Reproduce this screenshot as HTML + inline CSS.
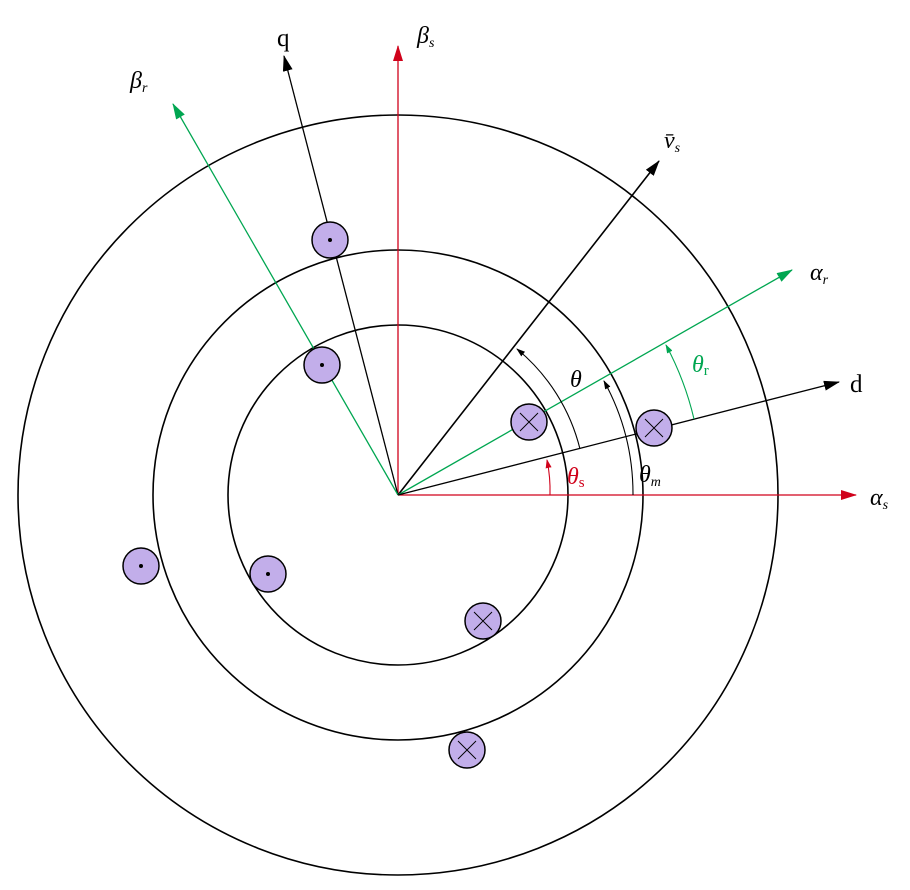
<!DOCTYPE html>
<html><head><meta charset="utf-8"><style>body{margin:0;background:#fff}svg{display:block}</style></head><body>
<svg width="910" height="890" viewBox="0 0 910 890" xmlns="http://www.w3.org/2000/svg" font-family="Liberation Serif, serif">
<defs>
<marker id="ab" markerWidth="16" markerHeight="10" refX="15" refY="5" orient="auto" markerUnits="userSpaceOnUse"><path d="M0,0 L16,5 L0,10 Z" fill="#000"/></marker>
<marker id="ar" markerWidth="16" markerHeight="10" refX="15" refY="5" orient="auto" markerUnits="userSpaceOnUse"><path d="M0,0 L16,5 L0,10 Z" fill="#d0021b"/></marker>
<marker id="ag" markerWidth="16" markerHeight="10" refX="15" refY="5" orient="auto" markerUnits="userSpaceOnUse"><path d="M0,0 L16,5 L0,10 Z" fill="#00a651"/></marker>
<marker id="sb" markerWidth="9" markerHeight="6" refX="8" refY="3" orient="auto" markerUnits="userSpaceOnUse"><path d="M0,0 L9,3 L0,6 Z" fill="#000"/></marker>
<marker id="sr" markerWidth="9" markerHeight="6" refX="8" refY="3" orient="auto" markerUnits="userSpaceOnUse"><path d="M0,0 L9,3 L0,6 Z" fill="#d0021b"/></marker>
<marker id="sg" markerWidth="9" markerHeight="6" refX="8" refY="3" orient="auto" markerUnits="userSpaceOnUse"><path d="M0,0 L9,3 L0,6 Z" fill="#00a651"/></marker>
</defs>
<g fill="none" stroke="#000" stroke-width="1.6">
<circle cx="398" cy="495" r="380"/>
<circle cx="398" cy="495" r="245"/>
<circle cx="398" cy="495" r="170"/>
</g>
<g stroke-width="1.3">
<line x1="398" y1="495" x2="856" y2="495" stroke="#d0021b" marker-end="url(#ar)"/>
<line x1="398" y1="495" x2="398" y2="46" stroke="#d0021b" marker-end="url(#ar)"/>
<line x1="398" y1="495" x2="284" y2="56" stroke="#000" marker-end="url(#ab)"/>
<line x1="398" y1="495" x2="173" y2="104" stroke="#00a651" marker-end="url(#ag)"/>
<line x1="398" y1="495" x2="659" y2="161" stroke="#000" marker-end="url(#ab)" stroke-width="1.6"/>
<line x1="398" y1="495" x2="792" y2="270" stroke="#00a651" marker-end="url(#ag)"/>
<line x1="398" y1="495" x2="839" y2="382" stroke="#000" marker-end="url(#ab)"/>
</g>
<g fill="none" stroke-width="1.1">
<path d="M550,495 A152,152 0 0 0 547,460" stroke="#d0021b" marker-end="url(#sr)"/>
<path d="M580,449 A188,188 0 0 0 517,349" stroke="#000" marker-end="url(#sb)"/>
<path d="M633,495 A235,235 0 0 0 604,381" stroke="#000" marker-end="url(#sb)"/>
<path d="M694,419 A305,305 0 0 0 666,345" stroke="#00a651" marker-end="url(#sg)"/>
</g>
<g fill="#c2aeea" stroke="#000" stroke-width="1.5">
<circle cx="330" cy="240" r="18"/><circle cx="322" cy="365" r="18"/><circle cx="141" cy="566" r="18"/><circle cx="268" cy="574" r="18"/>
<circle cx="529" cy="422" r="18"/><circle cx="654" cy="428" r="18"/><circle cx="483" cy="621" r="18"/><circle cx="467" cy="750" r="18"/>
</g>
<g fill="#000"><circle cx="330" cy="240" r="2"/><circle cx="322" cy="365" r="2"/><circle cx="141" cy="566" r="2"/><circle cx="268" cy="574" r="2"/></g>
<g stroke="#000" stroke-width="0.9">
<path d="M520,413 l18,18 M538,413 l-18,18"/><path d="M645,419 l18,18 M663,419 l-18,18"/>
<path d="M474,612 l18,18 M492,612 l-18,18"/><path d="M458,741 l18,18 M476,741 l-18,18"/>
</g>
<g font-size="24" font-style="italic">
<text x="870" y="505">α<tspan font-size="14" dy="4">s</tspan></text>
<text x="417" y="43" fill="#000">β<tspan font-size="14" dy="4">s</tspan></text>
<text x="130" y="88">β<tspan font-size="14" dy="4">r</tspan></text>
<text x="810" y="280">α<tspan font-size="14" dy="4">r</tspan></text>
<text x="664" y="148">v̄<tspan font-size="14" dy="4">s</tspan></text>
<text x="570" y="387">θ</text>
<text x="567" y="484" fill="#d0021b">θ<tspan font-size="15" font-style="normal" dy="3">s</tspan></text>
<text x="639" y="482">θ<tspan font-size="14" dy="4">m</tspan></text>
<text x="692" y="372" fill="#00a651">θ<tspan font-size="15" font-style="normal" dy="3">r</tspan></text>
</g>
<text x="277" y="46" font-size="25">q</text>
<text x="850" y="392" font-size="25">d</text>
</svg>
</body></html>
